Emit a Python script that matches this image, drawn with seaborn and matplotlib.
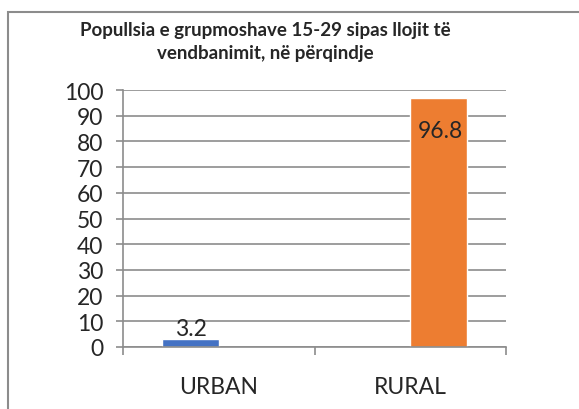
import matplotlib
matplotlib.use("Agg")
import matplotlib.pyplot as plt
import seaborn as sns
import pandas as pd
import numpy as np
from matplotlib.patches import Rectangle

categories = ["URBAN", "RURAL"]
series = ["URBAN", "RURAL"]
values = [3.2, 96.8]
yticks = [0, 10, 20, 30, 40, 50, 60, 70, 80, 90, 100]
title = "Popullsia e grupmoshave 15-29 sipas llojit të\nvendbanimit, në përqindje"

sns.set_theme(style="white")
plt.rcParams['font.family'] = ['Lato', 'DejaVu Sans']

df = pd.DataFrame({
    "cat": categories,
    "series": series,
    "value": values,
})

fig = plt.figure(figsize=(5.79, 4.10), dpi=100)
ax = fig.add_axes([123/579, 1-348/410, (506-123)/579, (348-91)/410])

palette = {"URBAN": "#4472C4", "RURAL": "#ED7D31"}
sns.barplot(data=df, x="cat", y="value", hue="series", order=categories,
            hue_order=series, palette=palette, width=0.59, dodge=True,
            saturation=1, legend=False, ax=ax)

fs = 16.5
ax.set_xlim(-0.5, 1.5)
ax.set_ylim(0, 100)
ax.set_yticks(yticks)
ax.set_yticklabels([str(t) for t in yticks], fontsize=fs)
ax.set_xlabel("")
ax.set_ylabel("")
ax.grid(axis="y", color="#8c8c8c", linewidth=1.2)
ax.set_axisbelow(True)
for s in ["top", "right"]:
    ax.spines[s].set_visible(False)
for s in ["left", "bottom"]:
    ax.spines[s].set_color("#8c8c8c")
    ax.spines[s].set_linewidth(1.2)

ax.set_xticks([0, 1])
ax.set_xticklabels(categories, fontsize=fs)
ax.set_xticks([-0.5, 0.5, 1.5], minor=True)
ax.tick_params(axis="x", which="major", length=0, pad=21)
ax.tick_params(axis="x", which="minor", length=6, width=1.2, color="#8c8c8c", bottom=True)
ax.tick_params(axis="y", which="major", length=5, width=1.2, color="#8c8c8c", left=True, pad=9)

# data labels
bars = [p for p in ax.patches if p.get_height() > 0]
for p in bars:
    h = p.get_height()
    cx = p.get_x() + p.get_width() / 2
    if h < 50:
        ax.annotate(f"{h:.1f}", (cx, h), xytext=(0, 0), textcoords="offset points",
                    ha="center", va="bottom", fontsize=fs)
    else:
        ax.annotate(f"{h:.1f}", (cx, h), xytext=(1, -16), textcoords="offset points",
                    ha="center", va="top", fontsize=fs)

fig.text(265/579, 1-42/410, title, ha="center", va="center", fontsize=13.5,
         fontweight="bold", linespacing=1.45)

fig.patches.append(Rectangle((8/579, -0.1), 1.2, (1-13/410)+0.1, transform=fig.transFigure,
                             fill=False, edgecolor="#8c8c8c", linewidth=1.5))

fig.savefig("out.png", dpi=100)
